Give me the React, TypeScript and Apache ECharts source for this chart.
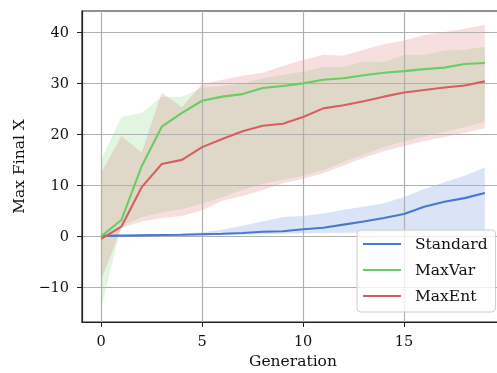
import React, { useEffect, useRef } from "react";
import * as echarts from "echarts";

const generations = [0, 1, 2, 3, 4, 5, 6, 7, 8, 9, 10, 11, 12, 13, 14, 15, 16, 17, 18, 19];

const standardMean = [0, 0.05, 0.1, 0.15, 0.2, 0.3, 0.4, 0.55, 0.8, 0.9, 1.3, 1.6, 2.2, 2.8, 3.5, 4.3, 5.7, 6.7, 7.4, 8.4];
const standardLower = [0, 0, 0, 0, 0, 0.05, 0.1, 0.2, 0.3, 0.4, 0.5, 0.55, 0.6, 0.65, 0.7, 0.75, 0.8, 0.8, 0.85, 0.85];
const standardUpper = [0, 0.1, 0.2, 0.3, 0.45, 0.7, 1.2, 2.0, 2.8, 3.7, 3.9, 4.4, 5.1, 5.7, 6.4, 7.6, 9.2, 10.5, 11.8, 13.4];

const maxVarMean = [-0.1, 3.1, 13.6, 21.4, 24.1, 26.5, 27.3, 27.8, 29.0, 29.4, 29.9, 30.6, 30.9, 31.5, 32.0, 32.3, 32.7, 33.0, 33.7, 33.9];
const maxVarLower = [-14, 2.0, 3.7, 4.6, 5.2, 6.3, 7.6, 9.0, 10.2, 11.0, 11.8, 12.9, 14.5, 16.0, 17.4, 18.5, 19.5, 20.4, 21.3, 22.4];
const maxVarUpper = [14.9, 23.3, 24.1, 27.3, 27.3, 29.0, 29.4, 29.9, 30.9, 31.6, 32.2, 33.1, 33.1, 34.2, 34.1, 35.5, 35.5, 36.3, 36.5, 37.1];

const maxEntMean = [-0.6, 1.8, 9.5, 14.1, 14.9, 17.4, 19.0, 20.5, 21.6, 22.0, 23.3, 25.0, 25.6, 26.4, 27.3, 28.1, 28.6, 29.1, 29.5, 30.3];
const maxEntLower = [-8.6, 1.6, 2.8, 3.5, 3.9, 5.0, 6.9, 7.8, 9.0, 10.3, 11.2, 12.3, 13.8, 15.3, 16.6, 17.6, 18.6, 19.4, 20.2, 21.1];
const maxEntUpper = [12.3, 19.6, 16.3, 28.1, 25.2, 29.8, 30.6, 31.4, 32.0, 33.3, 34.5, 35.5, 35.3, 36.5, 37.6, 38.3, 39.4, 40.0, 40.6, 41.4];

const xTicks = [0, 5, 10, 15];
const yTicks = [-10, 0, 10, 20, 30, 40];

const methods = [
  { name: "Standard", color: "#4878d0", mean: standardMean, lower: standardLower, upper: standardUpper },
  { name: "MaxVar", color: "#6acc64", mean: maxVarMean, lower: maxVarLower, upper: maxVarUpper },
  { name: "MaxEnt", color: "#d65f5f", mean: maxEntMean, lower: maxEntLower, upper: maxEntUpper },
];

const FONT = "DejaVu Serif";

export default function App() {
  const ref = useRef<HTMLDivElement>(null);
  useEffect(() => {
    document.body.style.margin = "0";
    const chart = echarts.init(ref.current!, null, { renderer: "svg" });
    const series: any[] = [];
    methods.forEach((m) => {
      series.push({
        name: m.name + " band",
        type: "custom",
        silent: true,
        z: -1,
        encode: { x: 0, y: [1, 2] },
        data: generations.map((g, i) => [g, m.lower[i], m.upper[i]]),
        renderItem: (params: any, api: any) => {
          if (params.dataIndexInside !== 0) return null;
          const n = params.dataInsideLength;
          const top: number[][] = [];
          const bottom: number[][] = [];
          for (let i = 0; i < n; i++) {
            const x = api.value(0, i);
            top.push(api.coord([x, api.value(2, i)]));
            bottom.push(api.coord([x, api.value(1, i)]));
          }
          const points = top.concat(bottom.reverse());
          return {
            type: "polygon",
            shape: { points },
            style: { fill: m.color, opacity: 0.2 },
          };
        },
      });
    });
    methods.forEach((m) => {
      series.push({
        name: m.name,
        type: "line",
        symbol: "none",
        color: m.color,
        lineStyle: { color: m.color, width: 2.1 },
        data: generations.map((g, i) => [g, m.mean[i]]),
        z: 3,
      });
    });

    chart.setOption({
      animation: false,
      grid: {
        left: 82,
        top: 11,
        width: 422,
        height: 311,
        show: true,
        borderColor: "#222",
        borderWidth: 1.2,
        outerBoundsMode: "none",
        containLabel: false,
      },
      legend: {
        data: methods.map((m) => m.name),
        orient: "vertical",
        left: 357,
        top: 230,
        icon: "rect",
        itemWidth: 38,
        itemHeight: 2.2,
        itemGap: 8,
        padding: [5, 8, 7, 6],
        backgroundColor: "rgba(255,255,255,0.8)",
        borderColor: "#cccccc",
        borderWidth: 1,
        borderRadius: 4,
        textStyle: { fontFamily: FONT, fontSize: 15.5, color: "#111", lineHeight: 18, padding: [0, 0, 0, 9] },
      },
      xAxis: {
        type: "value",
        min: -0.95,
        max: 19.95,
        name: "Generation",
        nameLocation: "middle",
        nameGap: 31,
        nameTextStyle: { fontFamily: FONT, fontSize: 15.5, color: "#111" },
        axisLine: { show: true, onZero: false, lineStyle: { color: "#222", width: 1.2 } },
        axisTick: { show: true, length: 5, customValues: xTicks, lineStyle: { color: "#222", width: 1 } },
        axisLabel: { customValues: xTicks, fontFamily: FONT, fontSize: 14.5, color: "#111", margin: 11 },
        splitLine: { show: true, lineStyle: { color: "#b0b0b0", width: 1.2 } },
      },
      yAxis: {
        type: "value",
        min: -16.9,
        max: 44.1,
        name: "Max Final X",
        nameLocation: "middle",
        nameGap: 54,
        nameTextStyle: { fontFamily: FONT, fontSize: 15.5, color: "#111" },
        axisLine: { show: true, onZero: false, lineStyle: { color: "#222", width: 1.2 } },
        axisTick: { show: true, length: 5, customValues: yTicks, lineStyle: { color: "#222", width: 1 } },
        axisLabel: {
          customValues: yTicks,
          fontFamily: FONT,
          fontSize: 14.5,
          color: "#111",
          margin: 13,
          formatter: (v: number) => String(v).replace("-", "\u2212"),
        },
        splitLine: { show: true, lineStyle: { color: "#b0b0b0", width: 1.2 } },
      },
      series,
    });
    return () => chart.dispose();
  }, []);
  return <div ref={ref} style={{ position: "fixed", left: 0, top: 0, width: 497, height: 373 }} />;
}
